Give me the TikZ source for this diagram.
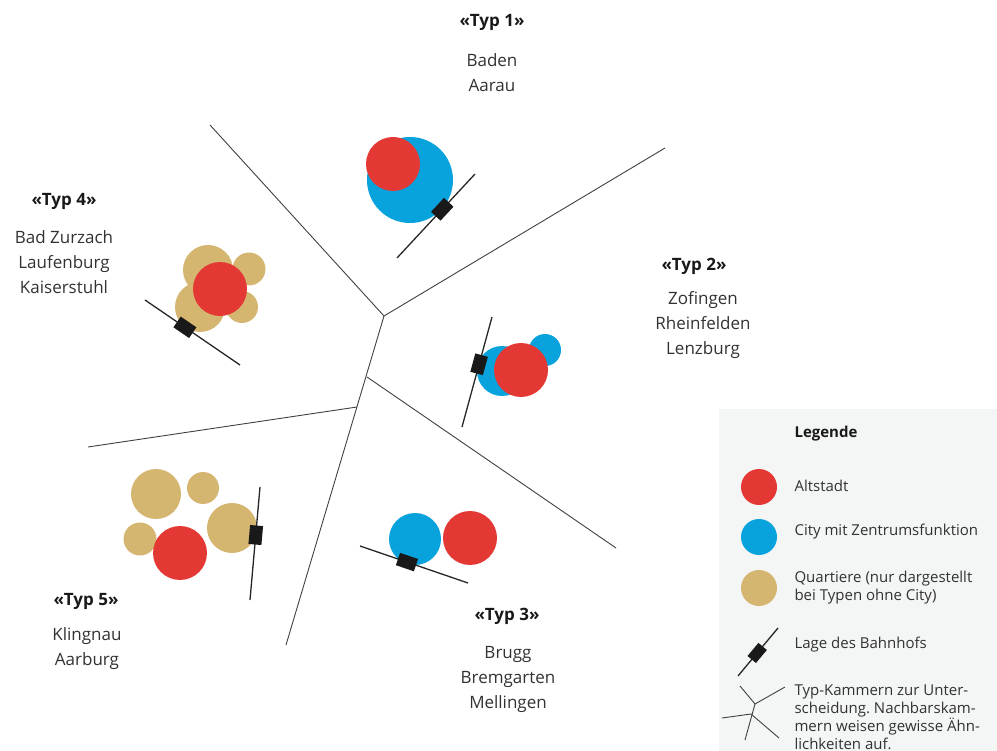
\documentclass[tikz,border=0pt]{standalone}
\usepackage{fontspec}
\setmainfont{Open Sans}
\frenchspacing
\definecolor{altrot}{RGB}{228,56,52}
\definecolor{cityblau}{RGB}{8,162,220}
\definecolor{sandgelb}{RGB}{213,182,112}
\definecolor{legendgrau}{RGB}{244,245,245}
\definecolor{schrift}{RGB}{50,50,50}

\begin{document}
\begin{tikzpicture}[x=1pt, y=-1pt,
  every node/.style={font=\fontsize{17}{25}\selectfont, text=schrift},
  typtitel/.style={font=\fontsize{17}{25}\selectfont\bfseries, text=black!90},
  ortsliste/.style={align=center},
  altstadt/.style={circle, fill=altrot, inner sep=0pt, minimum size=54pt},
  city/.style={circle, fill=cityblau, inner sep=0pt},
  quartier/.style={circle, fill=sandgelb, inner sep=0pt},
  gleis/.style={line width=1.3pt, draw=black!85},
  bahnhof/.style={fill=black!90, minimum width=19pt, minimum height=13pt, inner sep=0pt, sloped},
  kammer/.style={line width=0.9pt, draw=black!75},
  legtext/.style={font=\fontsize{15}{18}\selectfont, anchor=west, align=left}
]
\useasboundingbox (0,0) rectangle (997,751);

% Legend background
\fill[legendgrau] (719,409) rectangle (997,751);

% Typ-Kammern
\coordinate (k1) at (384,316);
\coordinate (k2) at (367,377);
\coordinate (k3) at (357,407);
\coordinate (knw) at (210,125);
\coordinate (kne) at (665,148);
\coordinate (kw) at (88,447);
\coordinate (kse) at (616,548);
\coordinate (ks) at (286,645);
\draw[kammer] (knw) -- (k1) -- (kne);
\draw[kammer] (k1) -- (ks);
\draw[kammer] (k2) -- (kse);
\draw[kammer] (k3) -- (kw);

% Typ 1
\node[city, minimum size=86pt] (c1) at (410,180) {};
\node[altstadt] (a1) at (393,164) {};
\coordinate (g1a) at (397,258);
\coordinate (g1b) at (475,174);
\draw[gleis] (g1a) -- node[bahnhof, pos=0.58] (b1) {} (g1b);
\node[typtitel] (t1) at (492,22) {«Typ 1»};
\node[ortsliste] (o1) at (492,73) {Baden\\Aarau};

% Typ 2
\node[city, minimum size=32pt] (c2b) at (545,350) {};
\node[city, minimum size=50pt] (c2a) at (502,371) {};
\node[altstadt] (a2) at (521,370) {};
\coordinate (g2a) at (462,427);
\coordinate (g2b) at (492,317);
\draw[gleis] (g2a) -- node[bahnhof, pos=0.57] (b2) {} (g2b);
\node[typtitel] (t2) at (694,266) {«Typ 2»};
\node[ortsliste] (o2) at (703,325) {Zofingen\\Rheinfelden\\Lenzburg};

% Typ 3
\node[city, minimum size=52pt] (c3) at (415,539) {};
\node[altstadt] (a3) at (470,538) {};
\coordinate (g3a) at (360,546);
\coordinate (g3b) at (468,583);
\draw[gleis] (g3a) -- node[bahnhof, pos=0.435] (b3) {} (g3b);
\node[typtitel] (t3) at (507,616) {«Typ 3»};
\node[ortsliste] (o3) at (508,679) {Brugg\\Bremgarten\\Mellingen};

% Typ 4
\node[quartier, minimum size=50pt] (q4a) at (208,270) {};
\node[quartier, minimum size=33pt] (q4b) at (249,269) {};
\node[quartier, minimum size=50pt] (q4c) at (200,307) {};
\node[quartier, minimum size=32pt] (q4d) at (242,307) {};
\node[altstadt] (a4) at (220,289) {};
\coordinate (g4a) at (145,300);
\coordinate (g4b) at (240,365);
\draw[gleis] (g4a) -- node[bahnhof, pos=0.42] (b4) {} (g4b);
\node[typtitel] (t4) at (64,201) {«Typ 4»};
\node[ortsliste] (o4) at (64,262) {Bad Zurzach\\Laufenburg\\Kaiserstuhl};

% Typ 5
\node[quartier, minimum size=50pt] (q5a) at (156,494) {};
\node[quartier, minimum size=32pt] (q5b) at (203,488) {};
\node[quartier, minimum size=50pt] (q5c) at (232,528) {};
\node[quartier, minimum size=33pt] (q5d) at (140,539) {};
\node[altstadt] (a5) at (180,553) {};
\coordinate (g5a) at (250,600);
\coordinate (g5b) at (260,487);
\draw[gleis] (g5a) -- node[bahnhof, pos=0.575] (b5) {} (g5b);
\node[typtitel] (t5) at (86,601) {«Typ 5»};
\node[ortsliste] (o5) at (87,649) {Klingnau\\Aarburg};

% Legend
\node[legtext, font=\fontsize{15}{18}\selectfont\bfseries, text=black!90] (leg) at (791,434) {Legende};
\node[altstadt, minimum size=36pt] (la) at (759,487) {};
\node[legtext] (lat) at (791,486) {Altstadt};
\node[city, minimum size=36pt] (lc) at (759,537) {};
\node[legtext] (lct) at (791,532) {City mit Zentrumsfunktion};
\node[quartier, minimum size=36pt] (lq) at (759,588) {};
\node[legtext] (lqt) at (791,588) {Quartiere (nur dargestellt\\bei Typen ohne City)};
\coordinate (lga) at (738,676);
\coordinate (lgb) at (778,628);
\draw[gleis] (lga) -- node[bahnhof, pos=0.48, minimum width=17pt, minimum height=11pt] (lb) {} (lgb);
\node[legtext] (lbt) at (791,645) {Lage des Bahnhofs};
\coordinate (lk1) at (755,704);
\coordinate (lk2) at (751,714);
\draw[kammer] (740,686) -- (lk1) -- (785,687);
\draw[kammer] (lk1) -- (745,740);
\draw[kammer] (lk2) -- (722,718);
\draw[kammer] (lk2) -- (779,738);
\node[legtext, anchor=north west] (lkt) at (791,681) {Typ-Kammern zur Unter-\\scheidung. Nachbarskam-\\mern weisen gewisse Ähn-\\lichkeiten auf.};
\end{tikzpicture}
\end{document}
